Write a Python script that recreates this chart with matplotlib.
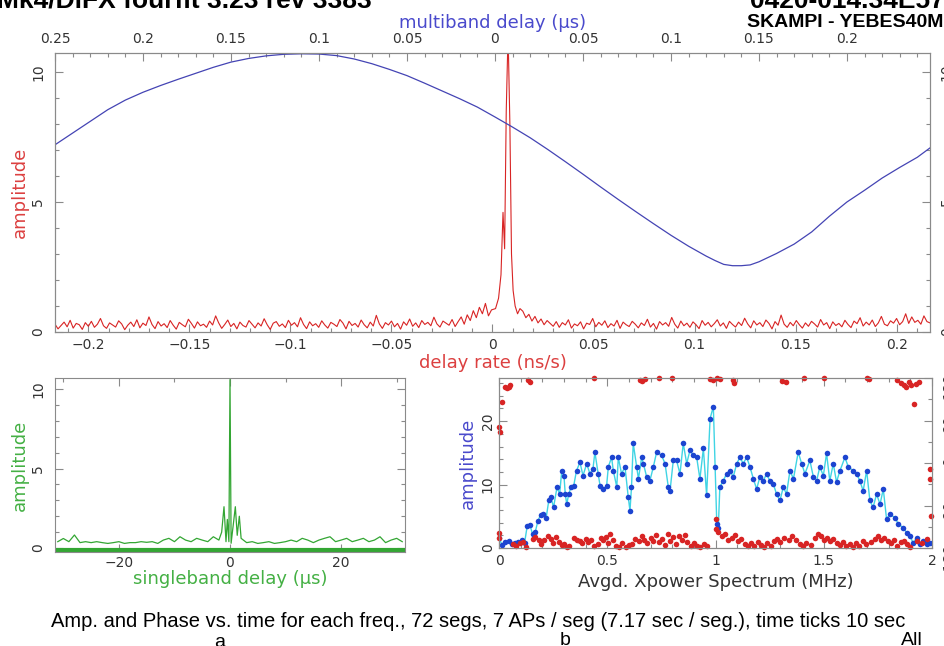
import numpy as np
import matplotlib.pyplot as plt
from matplotlib.ticker import MultipleLocator, FixedLocator

# ---- top panel: delay-rate function (red) and multiband delay function (blue)
rate_noise_left = [0.30, 0.12, 0.25, 0.38, 0.20, 0.45, 0.15, 0.33, 0.28, 0.10,
                   0.36, 0.22, 0.41, 0.18, 0.30, 0.52, 0.24, 0.14, 0.35, 0.27,
                   0.19, 0.43, 0.31, 0.09, 0.26, 0.38, 0.21, 0.47, 0.16, 0.34,
                   0.25, 0.58, 0.29, 0.13, 0.40, 0.23, 0.32, 0.17, 0.44, 0.26,
                   0.11, 0.37, 0.28, 0.20, 0.49, 0.33, 0.15, 0.39, 0.24, 0.30,
                   0.18, 0.42, 0.27, 0.62, 0.35, 0.14, 0.29, 0.46, 0.21, 0.33,
                   0.12, 0.38, 0.25, 0.19, 0.44, 0.30, 0.16, 0.35, 0.23, 0.51,
                   0.28, 0.10, 0.34, 0.40, 0.22, 0.31, 0.17, 0.45, 0.26, 0.36,
                   0.20, 0.55, 0.29, 0.13, 0.39, 0.24, 0.32, 0.18, 0.43, 0.27,
                   0.15, 0.37, 0.30, 0.21, 0.48, 0.34, 0.12, 0.41, 0.25, 0.33,
                   0.19, 0.46, 0.28, 0.16, 0.38, 0.23, 0.64, 0.31, 0.14, 0.36,
                   0.27, 0.42, 0.20, 0.33, 0.11, 0.39, 0.26, 0.50, 0.22, 0.35,
                   0.17, 0.44, 0.29, 0.37, 0.24, 0.57, 0.31, 0.19, 0.42, 0.34,
                   0.26, 0.48, 0.21, 0.40, 0.58, 0.30, 0.66, 0.44, 0.82, 0.55,
                   0.95, 0.70, 1.10, 0.62, 0.85]
rate_peak = [0.0015, 0.0030, 0.0042, 0.0052, 0.0060, 0.0068, 0.0077, 0.0086,
             0.0094, 0.0102, 0.0112, 0.0124, 0.0136]
rate_peak_amp = [0.9, 1.3, 2.2, 4.6, 3.2, 8.5, 11.5, 8.0, 3.0, 1.6, 1.0, 0.7, 0.9]
rate_noise_right = [0.80, 0.55, 0.68, 0.42, 0.60, 0.35, 0.50, 0.28, 0.44, 0.33,
                    0.22, 0.40, 0.18, 0.36, 0.27, 0.47, 0.15, 0.31, 0.24, 0.39,
                    0.12, 0.34, 0.29, 0.52, 0.20, 0.37, 0.26, 0.43, 0.17, 0.32,
                    0.23, 0.45, 0.14, 0.38, 0.28, 0.21, 0.41, 0.30, 0.16, 0.35,
                    0.25, 0.49, 0.19, 0.33, 0.11, 0.40, 0.27, 0.36, 0.22, 0.56,
                    0.30, 0.15, 0.42, 0.24, 0.34, 0.18, 0.39, 0.28, 0.13, 0.44,
                    0.26, 0.37, 0.20, 0.32, 0.47, 0.23, 0.35, 0.14, 0.41, 0.29,
                    0.19, 0.38, 0.25, 0.53, 0.31, 0.16, 0.43, 0.27, 0.36, 0.21,
                    0.46, 0.33, 0.12, 0.40, 0.26, 0.65, 0.30, 0.18, 0.37, 0.24,
                    0.44, 0.28, 0.15, 0.35, 0.22, 0.41, 0.31, 0.19, 0.48, 0.27,
                    0.36, 0.13, 0.39, 0.25, 0.33, 0.20, 0.45, 0.29, 0.17, 0.42,
                    0.32, 0.55, 0.23, 0.38, 0.27, 0.46, 0.21, 0.35, 0.60, 0.30,
                    0.24, 0.43, 0.34, 0.52, 0.28, 0.40, 0.70, 0.33, 0.58, 0.37,
                    0.45, 0.30, 0.62, 0.40, 0.35]

mbd = [-0.250, -0.240, -0.230, -0.220, -0.210, -0.200, -0.190, -0.180, -0.170,
       -0.160, -0.150, -0.140, -0.130, -0.120, -0.110, -0.100, -0.090, -0.080,
       -0.070, -0.060, -0.050, -0.040, -0.030, -0.020, -0.010, 0.000, 0.010,
       0.020, 0.030, 0.040, 0.050, 0.060, 0.070, 0.080, 0.090, 0.100, 0.110,
       0.120, 0.125, 0.130, 0.135, 0.140, 0.145, 0.150, 0.160, 0.170, 0.180,
       0.190, 0.200, 0.210, 0.220, 0.230, 0.240, 0.2472]
mbd_amp = [7.20, 7.65, 8.10, 8.55, 8.92, 9.22, 9.48, 9.72, 9.95,
           10.18, 10.38, 10.52, 10.62, 10.68, 10.70, 10.69, 10.63, 10.50,
           10.32, 10.10, 9.86, 9.57, 9.27, 8.97, 8.65, 8.27, 7.88,
           7.47, 7.02, 6.55, 6.07, 5.58, 5.10, 4.63, 4.17, 3.72, 3.30,
           2.92, 2.75, 2.60, 2.55, 2.55, 2.58, 2.70, 3.02, 3.38, 3.85,
           4.45, 5.00, 5.45, 5.92, 6.33, 6.72, 7.08]

mbd_ticks = [-0.25, -0.2, -0.15, -0.1, -0.05, 0, 0.05, 0.1, 0.15, 0.2]
mbd_labels = ['0.25', '0.2', '0.15', '0.1', '0.05', '0', '0.05', '0.1', '0.15', '0.2']
rate_ticks = [-0.2, -0.15, -0.1, -0.05, 0, 0.05, 0.1, 0.15, 0.2]
rate_labels = ['\u22120.2', '\u22120.15', '\u22120.1', '\u22120.05', '0', '0.05', '0.1', '0.15', '0.2']

# ---- singleband delay (green)
sbd_noise_x = list(range(-31, -1)) + list(range(2, 32))
sbd_noise_amp = [0.40, 0.60, 0.40, 0.82, 0.34, 0.40, 0.34, 0.40, 0.34, 0.29,
                 0.34, 0.40, 0.29, 0.34, 0.34, 0.40, 0.36, 0.40, 0.29, 0.50,
                 0.61, 0.40, 0.71, 0.50, 0.40, 0.61, 0.50, 0.40, 0.71, 0.50,
                 0.61, 0.34, 0.40, 0.29, 0.34, 0.40, 0.29, 0.34, 0.40, 0.50,
                 0.40, 0.61, 0.50, 0.34, 0.50, 0.61, 0.71, 0.40, 0.50, 0.61,
                 0.40, 0.50, 0.61, 0.40, 0.50, 0.71, 0.34, 0.50, 0.61, 0.40]
sbd_peak_x = [-1.5, -1.08, -0.72, -0.48, -0.2, 0.0, 0.2, 0.6, 0.96, 1.3, 1.68]
sbd_peak_amp = [1.0, 2.6, 0.4, 1.8, 0.4, 10.6, 0.3, 1.5, 2.6, 0.8, 2.0]

# ---- cross power spectrum: amplitude (blue) and phase (red)
spec_freq = [0.000, 0.015, 0.030, 0.045, 0.060, 0.075, 0.090, 0.105, 0.118, 0.130,
             0.143, 0.155, 0.168, 0.180, 0.192, 0.205, 0.218, 0.230, 0.240, 0.252,
             0.268, 0.280, 0.290, 0.300, 0.306, 0.313, 0.322, 0.333, 0.345, 0.358,
             0.374, 0.388, 0.405, 0.420, 0.434, 0.443, 0.458, 0.467, 0.482, 0.497,
             0.505, 0.520, 0.528, 0.544, 0.551, 0.566, 0.582, 0.597, 0.605, 0.612,
             0.620, 0.636, 0.644, 0.659, 0.667, 0.682, 0.697, 0.713, 0.728, 0.751,
             0.767, 0.782, 0.790, 0.805, 0.820, 0.836, 0.851, 0.867, 0.882, 0.897,
             0.913, 0.928, 0.944, 0.959, 0.975, 0.990, 0.998, 1.006, 1.013, 1.020,
             1.036, 1.051, 1.067, 1.082, 1.098, 1.113, 1.128, 1.144, 1.159, 1.175,
             1.190, 1.205, 1.221, 1.236, 1.251, 1.267, 1.282, 1.298, 1.313, 1.328,
             1.344, 1.360, 1.382, 1.398, 1.413, 1.436, 1.452, 1.467, 1.482, 1.498,
             1.513, 1.528, 1.544, 1.559, 1.575, 1.598, 1.613, 1.636, 1.652, 1.667,
             1.682, 1.698, 1.713, 1.728, 1.744, 1.760, 1.775, 1.790, 1.806, 1.829,
             1.844, 1.867, 1.883, 1.898, 1.913, 1.929, 1.944, 1.960, 1.975, 1.990]
spec_amp = [1.6, 0.4, 0.9, 1.1, 0.6, 0.8, 1.0, 1.2, 0.8, 3.4,
            3.6, 2.2, 2.6, 4.3, 5.2, 5.4, 4.8, 7.5, 8.0, 6.4,
            9.6, 8.5, 12.2, 11.4, 8.5, 6.9, 8.5, 9.6, 9.8, 12.2,
            13.5, 11.4, 13.3, 11.7, 12.5, 15.1, 11.7, 9.8, 9.3, 9.8,
            12.8, 14.3, 12.2, 9.6, 14.3, 11.7, 12.8, 8.0, 5.9, 9.6,
            16.5, 12.8, 10.9, 14.3, 13.3, 11.2, 10.6, 12.8, 15.1, 14.6,
            13.3, 9.6, 9.0, 13.8, 13.8, 11.7, 16.5, 13.3, 15.4, 14.6,
            14.3, 10.9, 15.7, 8.3, 20.4, 22.3, 12.8, 3.8, 3.2, 9.6,
            10.6, 11.7, 12.2, 11.2, 13.3, 14.3, 13.3, 14.3, 12.8, 10.9,
            9.3, 11.2, 10.6, 11.7, 10.6, 10.1, 8.5, 7.5, 9.6, 8.5,
            12.2, 10.9, 15.1, 13.3, 11.7, 13.8, 11.2, 10.6, 12.8, 11.4,
            14.9, 10.6, 13.3, 10.4, 12.2, 14.3, 12.8, 12.2, 11.7, 10.6,
            9.0, 12.2, 7.5, 6.4, 8.5, 6.9, 9.3, 4.6, 5.3, 4.8,
            3.8, 3.2, 2.4, 1.9, 0.8, 1.6, 0.6, 1.1, 0.6, 0.8]

phase_freq = [0.000, 0.000, 0.065, 0.080, 0.095, 0.110, 0.125, 0.155, 0.165, 0.185,
              0.195, 0.210, 0.225, 0.240, 0.250, 0.262, 0.275, 0.290, 0.300, 0.312,
              0.325, 0.345, 0.360, 0.372, 0.385, 0.400, 0.412, 0.425, 0.440, 0.455,
              0.470, 0.482, 0.495, 0.505, 0.515, 0.528, 0.540, 0.552, 0.570, 0.585,
              0.600, 0.615, 0.630, 0.645, 0.660, 0.672, 0.685, 0.700, 0.712, 0.724,
              0.738, 0.752, 0.765, 0.780, 0.792, 0.805, 0.818, 0.830, 0.845, 0.858,
              0.870, 0.885, 0.900, 0.915, 0.930, 0.945, 0.960, 1.000, 1.000, 1.010,
              1.030, 1.045, 1.060, 1.075, 1.092, 1.105, 1.120, 1.135, 1.150, 1.165,
              1.180, 1.195, 1.210, 1.225, 1.240, 1.255, 1.270, 1.285, 1.300, 1.315,
              1.340, 1.355, 1.370, 1.390, 1.405, 1.420, 1.440, 1.460, 1.472, 1.485,
              1.500, 1.515, 1.530, 1.545, 1.560, 1.575, 1.590, 1.605, 1.620, 1.635,
              1.650, 1.665, 1.680, 1.695, 1.720, 1.735, 1.750, 1.765, 1.780, 1.795,
              1.810, 1.825, 1.840, 1.855, 1.870, 1.885, 1.900, 1.930, 1.955, 1.975,
              0.002, 0.003, 0.014, 0.028, 0.035, 0.045, 0.050, 0.135, 0.145, 0.440,
              0.650, 0.660, 0.675, 0.740, 0.800, 0.975, 0.990, 1.005, 1.020, 1.080,
              1.085, 1.305, 1.325, 1.410, 1.500, 1.700, 1.710, 1.840, 1.855, 1.870,
              1.880, 1.895, 1.905, 1.915, 1.925, 1.940, 1.990, 1.992, 1.995]
phase_deg = [-149, -158, -172, -175, -170, -168, -178, -160, -157, -162,
             -172, -164, -155, -160, -170, -157, -168, -174, -171, -178,
             -176, -158, -162, -166, -170, -160, -168, -163, -175, -172,
             -158, -164, -156, -170, -150, -163, -176, -178, -170, -177,
             -174, -172, -160, -166, -154, -162, -170, -158, -165, -153,
             -168, -160, -173, -150, -165, -157, -172, -155, -163, -152,
             -168, -175, -170, -176, -178, -172, -175, -119, -140, -147,
             -155, -150, -162, -158, -152, -165, -160, -172, -176, -170,
             -175, -168, -173, -178, -170, -176, -165, -160, -167, -158,
             -163, -155, -162, -172, -176, -170, -174, -158, -150, -155,
             -162, -158, -165, -160, -170, -174, -168, -176, -172, -178,
             -170, -175, -166, -172, -168, -160, -155, -163, -158, -166,
             -170, -162, -175, -168, -165, -172, -178, -166, -170, -160,
             76, 66, 130, 162, 158, 160, 165, 176, 172, 179,
             176, 173, 177, 179, 179, 178, 176, 179, 177, 175,
             170, 173, 172, 179, 180, 179, 178, 175, 170, 166,
             160, 172, 165, 126, 168, 172, -12, -34, -112]

RED = '#d82424'
BLUE = '#4444b4'
GREEN = '#33a633'
DOT_BLUE = '#1c44d0'
CYAN = '#40d4e4'
SPINE = '#8a8a8a'
TXT = '#333333'

W, H = 945, 646


def box(l, t, r, b):
    return [l / W, 1 - b / H, (r - l) / W, (b - t) / H]


def style(ax):
    for s in ax.spines.values():
        s.set_color(SPINE)
        s.set_linewidth(0.8)
    ax.tick_params(which='both', direction='in', color=SPINE, labelcolor=TXT,
                   labelsize=10, width=0.8)
    ax.tick_params(which='major', length=6)
    ax.tick_params(which='minor', length=3)


fig = plt.figure(figsize=(9.45, 6.46), dpi=100)

# top panel
ax = fig.add_axes(box(55, 53, 930, 332))
rate = np.concatenate([np.linspace(-0.2165, -0.0005, len(rate_noise_left)),
                       rate_peak,
                       np.linspace(0.0150, 0.2165, len(rate_noise_right))])
rate_amp = rate_noise_left + rate_peak_amp + rate_noise_right
ax.plot(rate, rate_amp, color=RED, lw=0.8)
ax.set_xlim(-0.2165, 0.2165)
ax.set_ylim(0, 10.73)
style(ax)
ax.xaxis.set_major_locator(FixedLocator(rate_ticks))
ax.set_xticklabels(rate_labels)
ax.xaxis.set_minor_locator(MultipleLocator(0.01))
ax.yaxis.set_major_locator(MultipleLocator(5))
ax.yaxis.set_minor_locator(MultipleLocator(1))
ax.tick_params(axis='x', which='both', top=False, pad=4)
ax.tick_params(axis='y', which='both', right=True, labelright=True,
               labelrotation=90, pad=7)
for t in ax.get_yticklabels():
    t.set_va('center')
ax.set_xlabel('delay rate (ns/s)', color='#dc4040', fontsize=13, labelpad=2)
ax.set_ylabel('amplitude', color='#dc4040', fontsize=13, labelpad=2)

ax2 = ax.twiny()
ax2.plot(mbd, mbd_amp, color=BLUE, lw=0.9)
ax2.set_xlim(-0.25, 0.2472)
style(ax2)
ax2.xaxis.set_major_locator(FixedLocator(mbd_ticks))
ax2.set_xticklabels(mbd_labels)
ax2.xaxis.set_minor_locator(MultipleLocator(0.01))
ax2.tick_params(axis='x', which='both', pad=5)
ax2.set_xlabel('multiband delay (\u03bcs)', color='#4a4acc', fontsize=13, labelpad=3)

# singleband delay panel
axs = fig.add_axes(box(55, 378, 405, 552))
sbd_pts = sorted(zip(sbd_noise_x + sbd_peak_x, sbd_noise_amp + sbd_peak_amp))
axs.plot([p[0] for p in sbd_pts], [p[1] for p in sbd_pts], color=GREEN, lw=0.9)
axs.axhline(-0.12, color=GREEN, lw=3)
axs.set_xlim(-31.5, 31.5)
axs.set_ylim(-0.25, 10.7)
style(axs)
axs.xaxis.set_major_locator(MultipleLocator(20))
axs.xaxis.set_minor_locator(MultipleLocator(10))
axs.yaxis.set_major_locator(MultipleLocator(5))
axs.yaxis.set_minor_locator(MultipleLocator(1))
axs.tick_params(axis='x', which='both', top=True, pad=3)
axs.tick_params(axis='y', which='both', right=True, labelrotation=90, pad=7)
for t in axs.get_yticklabels():
    t.set_va('center')
axs.set_xlabel('singleband delay (\u03bcs)', color='#44b044', fontsize=13, labelpad=0)
axs.set_ylabel('amplitude', color='#44b044', fontsize=13, labelpad=2)

# cross power spectrum panel
axp = fig.add_axes(box(499, 378, 932, 548))
axp.plot(spec_freq, spec_amp, color=CYAN, lw=1.0, zorder=2)
axp.plot(spec_freq, spec_amp, 'o', color=DOT_BLUE, ms=4, mec='none', zorder=3)
axp.set_xlim(0, 2)
axp.set_ylim(0, 26.8)
style(axp)
axp.xaxis.set_major_locator(MultipleLocator(0.5))
axp.xaxis.set_minor_locator(MultipleLocator(0.1))
axp.yaxis.set_major_locator(MultipleLocator(10))
axp.yaxis.set_minor_locator(MultipleLocator(2))
axp.xaxis.set_major_formatter(lambda v, p: f'{v:g}')
axp.tick_params(axis='x', which='both', top=True, pad=4)
axp.tick_params(axis='y', which='both', labelrotation=90, pad=3)
for t in axp.get_yticklabels():
    t.set_va('center')
axp.set_xlabel('Avgd. Xpower Spectrum (MHz)', color=TXT, fontsize=13, labelpad=4)
axp.set_ylabel('amplitude', color='#4a4acc', fontsize=13, labelpad=3)

axq = axp.twinx()
axq.plot(phase_freq, phase_deg, 'o', color=RED, ms=4, mec='none', clip_on=False)
axq.set_ylim(-180, 180)
style(axq)
axq.yaxis.set_major_locator(MultipleLocator(90))
axq.yaxis.set_minor_locator(MultipleLocator(45))
axq.tick_params(axis='y', which='both', labelrotation=90, pad=7)

# header and footer texts
fig.text(-3 / W, 1 - 8 / H, 'Mk4/DiFX fourfit 3.23 rev 3383', fontsize=19,
         fontweight='bold', family='Liberation Sans', va='baseline')
fig.text(750 / W, 1 - 8 / H, '0420-014.34E57', fontsize=19,
         fontweight='bold', family='Liberation Sans', va='baseline')
fig.text(747 / W, 1 - 27 / H, 'SKAMPI - YEBES40M', fontsize=14,
         fontweight='bold', family='Liberation Sans', va='baseline')
fig.text(478 / W, 1 - 627 / H,
         'Amp. and Phase vs. time for each freq., 72 segs, 7 APs / seg (7.17 sec / seg.), time ticks 10 sec',
         fontsize=14.5, family='Liberation Sans', ha='center', va='baseline')
fig.text(220 / W, 1 - 634 / H, 'a', fontsize=14, family='Liberation Sans', ha='center', va='top')
fig.text(565 / W, 1 - 632 / H, 'b', fontsize=14, family='Liberation Sans', ha='center', va='top')
fig.text(912 / W, 1 - 632 / H, 'All', fontsize=14, family='Liberation Sans', ha='center', va='top')

fig.savefig('out.png', dpi=100)
